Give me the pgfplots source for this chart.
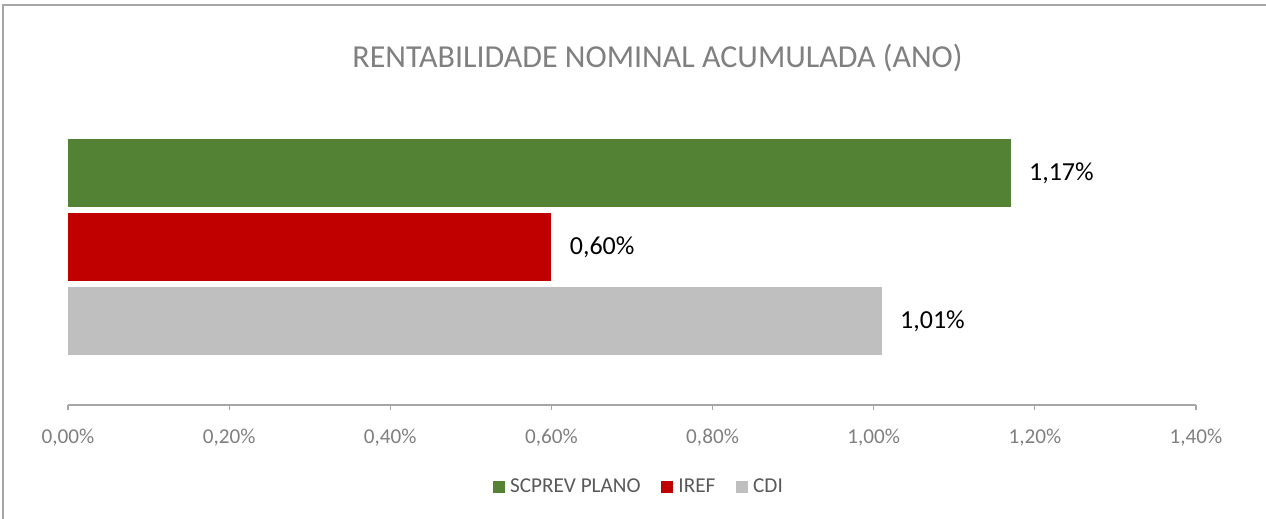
\documentclass[border=0pt]{standalone}
\usepackage{fontspec}
\setmainfont{Carlito}
\usepackage{pgfplots}
\pgfplotsset{compat=1.18}
\definecolor{cgreen}{HTML}{548235}
\definecolor{cred}{HTML}{C00000}
\definecolor{cgray}{HTML}{BFBFBF}
\definecolor{ctick}{HTML}{7F7F7F}
\definecolor{ctitle}{HTML}{808080}
\definecolor{clegend}{HTML}{595959}
\definecolor{cborder}{HTML}{A6A6A6}
\definecolor{caxis}{HTML}{A6A6A6}
\pgfplotsset{
  mybar/.style={xbar, bar width=68, bar shift=0pt, draw=none, fill=#1,
    legend image code/.code={\fill[#1] (0pt,-3pt) rectangle (6pt,3pt);}},
}
\begin{document}
\begin{tikzpicture}
\path[use as bounding box] (0,0) rectangle (633pt,259.5pt);
\draw[cborder, line width=1pt] (1.25pt,0) -- (1.25pt,256.9pt) -- (633pt,256.9pt);
\node[anchor=base, text=ctitle, font=\fontsize{16}{19}\selectfont] at (328.75pt,225.6pt) {RENTABILIDADE NOMINAL ACUMULADA (ANO)};
\begin{axis}[
  at={(34pt,57pt)}, anchor=south west,
  scale only axis, width=564pt, height=143.5pt,
  xmin=0, xmax=1.4, ymin=0, ymax=287,
  axis x line=bottom, axis y line=none,
  axis line style={-, draw=caxis, line width=0.6pt},
  xtick={0,0.2,0.4,0.6,0.8,1,1.2,1.4},
  xticklabels={{0,00\%},{0,20\%},{0,40\%},{0,60\%},{0,80\%},{1,00\%},{1,20\%},{1,40\%}},
  tick align=outside, major tick length=2.5pt,
  xtick style={draw=caxis, line width=0.6pt},
  xticklabel style={font=\fontsize{10.6}{12}\selectfont, text=ctick, anchor=base, yshift=-16.8pt, inner sep=0pt},
  ytick=\empty,
  clip=false,
  nodes near coords style={anchor=west, font=\fontsize{13}{15}\selectfont, text=black, inner sep=0pt, xshift=9pt},
  legend columns=-1,
  legend style={at={(0.5062,-0.2857)}, anchor=center, draw=none, fill=none,
    font=\fontsize{10.6}{12}\selectfont, text=clegend,
    /tikz/every even column/.append style={column sep=9pt},
    /tikz/every odd column/.append style={column sep=1.5pt},
    nodes={inner sep=1.2pt}},
]
\addplot[mybar=cgreen, nodes near coords={1,17\%}] coordinates {(1.17,232)};
\addlegendentry{SCPREV PLANO}
\addplot[mybar=cred, nodes near coords={0,60\%}] coordinates {(0.60,158)};
\addlegendentry{IREF}
\addplot[mybar=cgray, nodes near coords={1,01\%}] coordinates {(1.01,83.5)};
\addlegendentry{CDI}
\end{axis}
\end{tikzpicture}
\end{document}
